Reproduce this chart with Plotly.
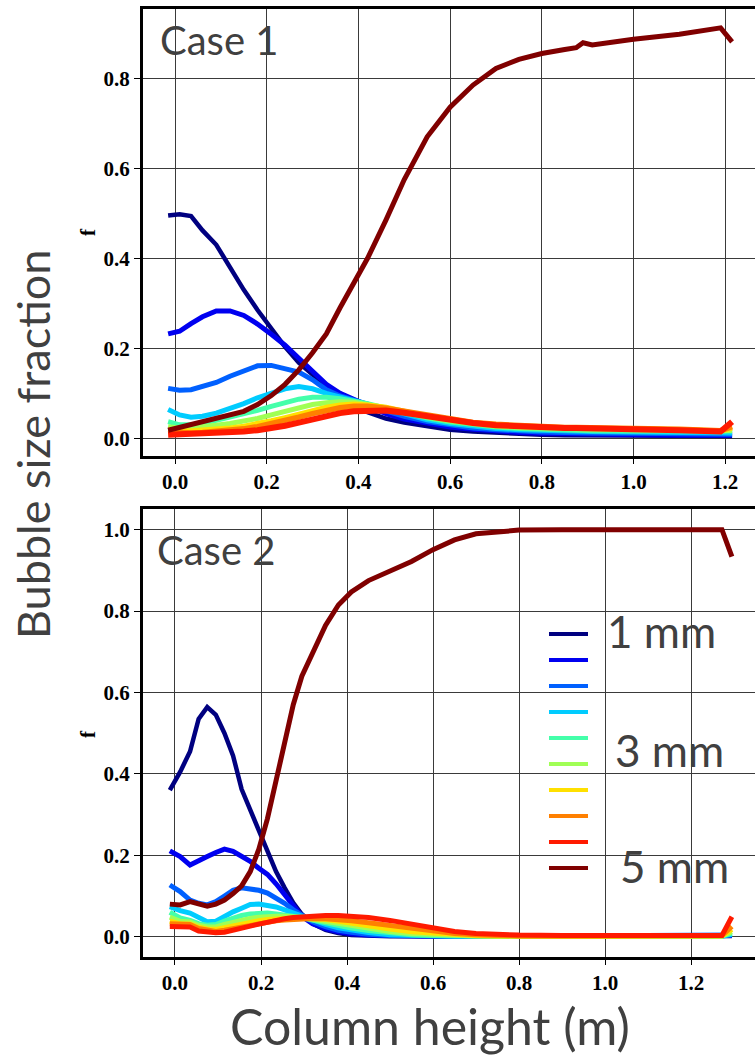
import plotly.graph_objects as go

# ---------------- data ----------------
sizes = ["1 mm", "", "", "", "3 mm", "", "", "", "", "5 mm"]
colors = ["#000080", "#0000F0", "#0060FF", "#00CCFF", "#44FFAA",
          "#A0FF55", "#FFE000", "#FF8000", "#FF1A00", "#800000"]

# Case 1: column height (m) and bubble size fraction of each class
x_case1 = [-0.015, 0.01, 0.035, 0.06, 0.09, 0.12, 0.15, 0.18, 0.21, 0.24, 0.27,
           0.30, 0.33, 0.36, 0.39, 0.42, 0.46, 0.50, 0.55, 0.60, 0.65, 0.70,
           0.75, 0.80, 0.85, 0.875, 0.89, 0.91, 1.00, 1.10, 1.19, 1.215]
f1_1 = [0.495, 0.498, 0.494, 0.462, 0.43, 0.378, 0.33, 0.285, 0.243, 0.203, 0.168,
        0.14, 0.115, 0.094, 0.074, 0.058, 0.044, 0.035, 0.026, 0.019, 0.015, 0.012,
        0.010, 0.008, 0.007, 0.007, 0.007, 0.006, 0.006, 0.005, 0.005, 0.005]
f1_2 = [0.232, 0.238, 0.255, 0.27, 0.283, 0.283, 0.273, 0.254, 0.231, 0.207, 0.178,
        0.148, 0.12, 0.1, 0.086, 0.072, 0.055, 0.043, 0.033, 0.025, 0.02, 0.016,
        0.013, 0.011, 0.010, 0.009, 0.009, 0.009, 0.008, 0.007, 0.007, 0.007]
f1_3 = [0.111, 0.107, 0.108, 0.116, 0.124, 0.138, 0.15, 0.161, 0.162, 0.155, 0.147,
        0.13, 0.108, 0.094, 0.086, 0.076, 0.061, 0.049, 0.037, 0.029, 0.023, 0.019,
        0.016, 0.014, 0.013, 0.012, 0.012, 0.012, 0.011, 0.010, 0.009, 0.009]
f1_4 = [0.064, 0.052, 0.047, 0.049, 0.056, 0.066, 0.077, 0.09, 0.101, 0.11, 0.115,
        0.11, 0.1, 0.092, 0.085, 0.077, 0.065, 0.053, 0.041, 0.033, 0.027, 0.022,
        0.019, 0.017, 0.016, 0.015, 0.015, 0.015, 0.014, 0.013, 0.012, 0.012]
f1_5 = [0.037, 0.03, 0.03, 0.033, 0.04, 0.047, 0.054, 0.062, 0.071, 0.08, 0.087,
        0.091, 0.091, 0.088, 0.083, 0.077, 0.067, 0.056, 0.045, 0.036, 0.03, 0.025,
        0.022, 0.020, 0.018, 0.018, 0.018, 0.017, 0.016, 0.015, 0.014, 0.016]
f1_6 = [0.026, 0.023, 0.023, 0.025, 0.029, 0.033, 0.038, 0.044, 0.052, 0.06, 0.068,
        0.075, 0.079, 0.081, 0.08, 0.076, 0.068, 0.058, 0.047, 0.039, 0.032, 0.027,
        0.024, 0.022, 0.020, 0.020, 0.020, 0.020, 0.019, 0.017, 0.016, 0.018]
f1_7 = [0.02, 0.017, 0.017, 0.018, 0.02, 0.023, 0.027, 0.032, 0.039, 0.046, 0.054,
        0.062, 0.069, 0.074, 0.076, 0.074, 0.069, 0.06, 0.049, 0.041, 0.034, 0.029,
        0.026, 0.024, 0.022, 0.022, 0.022, 0.022, 0.021, 0.019, 0.017, 0.022]
f1_8 = [0.015, 0.012, 0.012, 0.013, 0.015, 0.017, 0.021, 0.026, 0.032, 0.039, 0.047,
        0.055, 0.062, 0.068, 0.071, 0.071, 0.067, 0.06, 0.05, 0.042, 0.035, 0.031,
        0.028, 0.026, 0.024, 0.024, 0.024, 0.024, 0.022, 0.020, 0.017, 0.026]
f1_9 = [0.008, 0.009, 0.009, 0.009, 0.01, 0.012, 0.015, 0.018, 0.022, 0.028, 0.035,
        0.043, 0.05, 0.056, 0.06, 0.062, 0.062, 0.057, 0.049, 0.041, 0.034, 0.029,
        0.026, 0.024, 0.023, 0.023, 0.023, 0.022, 0.020, 0.018, 0.015, 0.037]
f1_10 = [0.018, 0.024, 0.032, 0.037, 0.043, 0.05, 0.06, 0.075, 0.095, 0.12, 0.152,
         0.19, 0.232, 0.29, 0.345, 0.4, 0.485, 0.575, 0.67, 0.736, 0.785, 0.822,
         0.842, 0.855, 0.864, 0.868, 0.879, 0.874, 0.887, 0.898, 0.912, 0.881]

# Case 2
x_case2 = [-0.012, 0.012, 0.035, 0.055, 0.075, 0.095, 0.115, 0.135, 0.155, 0.175,
           0.195, 0.215, 0.235, 0.255, 0.275, 0.295, 0.32, 0.35, 0.38, 0.41, 0.45,
           0.5, 0.55, 0.6, 0.65, 0.7, 0.75, 0.8, 0.9, 1.0, 1.1, 1.2, 1.272, 1.295]
f2_1 = [0.36, 0.405, 0.455, 0.535, 0.564, 0.545, 0.5, 0.445, 0.362, 0.31, 0.26,
        0.21, 0.16, 0.12, 0.083, 0.055, 0.032, 0.017, 0.009, 0.004, 0.002, 0.001,
        0.001, 0.0, 0.0, 0.0, 0.0, 0.0, 0.0, 0.0, 0.0, 0.0, 0.0, 0.002]
f2_2 = [0.211, 0.197, 0.176, 0.185, 0.197, 0.207, 0.215, 0.21, 0.198, 0.185, 0.168,
        0.153, 0.13, 0.102, 0.075, 0.05, 0.032, 0.02, 0.012, 0.007, 0.004, 0.002,
        0.001, 0.001, 0.001, 0.001, 0.001, 0.001, 0.001, 0.001, 0.001, 0.001, 0.001, 0.003]
f2_3 = [0.127, 0.111, 0.09, 0.082, 0.078, 0.086, 0.1, 0.114, 0.12, 0.117, 0.114,
        0.107, 0.095, 0.082, 0.066, 0.052, 0.037, 0.025, 0.016, 0.011, 0.006, 0.003,
        0.002, 0.001, 0.001, 0.001, 0.001, 0.001, 0.001, 0.001, 0.001, 0.001, 0.001, 0.004]
f2_4 = [0.074, 0.064, 0.058, 0.047, 0.037, 0.038, 0.05, 0.061, 0.07, 0.079, 0.08,
        0.078, 0.073, 0.066, 0.058, 0.05, 0.04, 0.03, 0.022, 0.016, 0.01, 0.005,
        0.003, 0.002, 0.001, 0.001, 0.001, 0.001, 0.001, 0.001, 0.001, 0.001, 0.001, 0.006]
f2_5 = [0.06, 0.046, 0.04, 0.032, 0.028, 0.03, 0.038, 0.046, 0.052, 0.056, 0.058,
        0.058, 0.056, 0.054, 0.051, 0.047, 0.041, 0.034, 0.027, 0.021, 0.015, 0.009,
        0.005, 0.003, 0.002, 0.001, 0.001, 0.001, 0.001, 0.001, 0.001, 0.001, 0.002, 0.009]
f2_6 = [0.048, 0.038, 0.036, 0.028, 0.024, 0.024, 0.03, 0.036, 0.041, 0.045, 0.048,
        0.05, 0.05, 0.05, 0.049, 0.047, 0.043, 0.038, 0.032, 0.027, 0.02, 0.013,
        0.008, 0.005, 0.003, 0.002, 0.001, 0.001, 0.001, 0.001, 0.001, 0.001, 0.002, 0.012]
f2_7 = [0.038, 0.032, 0.031, 0.023, 0.019, 0.018, 0.022, 0.027, 0.032, 0.036, 0.039,
        0.042, 0.044, 0.045, 0.046, 0.046, 0.045, 0.042, 0.038, 0.034, 0.027, 0.019,
        0.012, 0.008, 0.005, 0.003, 0.002, 0.001, 0.001, 0.001, 0.001, 0.001, 0.002, 0.018]
f2_8 = [0.032, 0.03, 0.03, 0.02, 0.015, 0.013, 0.016, 0.02, 0.025, 0.029, 0.032,
        0.036, 0.039, 0.041, 0.043, 0.044, 0.045, 0.044, 0.042, 0.039, 0.034, 0.027,
        0.02, 0.013, 0.008, 0.005, 0.003, 0.002, 0.002, 0.002, 0.002, 0.002, 0.003, 0.025]
f2_9 = [0.025, 0.025, 0.024, 0.014, 0.011, 0.01, 0.011, 0.015, 0.02, 0.026, 0.031,
        0.036, 0.04, 0.044, 0.047, 0.049, 0.051, 0.052, 0.052, 0.051, 0.047, 0.04,
        0.03, 0.021, 0.013, 0.008, 0.005, 0.004, 0.003, 0.003, 0.003, 0.003, 0.003, 0.049]
f2_10 = [0.08, 0.078, 0.086, 0.079, 0.075, 0.08, 0.09, 0.106, 0.125, 0.16, 0.215,
         0.29, 0.38, 0.48, 0.57, 0.64, 0.70, 0.765, 0.815, 0.847, 0.875, 0.9,
         0.922, 0.951, 0.975, 0.99, 0.996, 0.999, 1.0, 1.0, 1.0, 1.0, 1.0, 0.934]

case1 = [f1_1, f1_2, f1_3, f1_4, f1_5, f1_6, f1_7, f1_8, f1_9, f1_10]
case2 = [f2_1, f2_2, f2_3, f2_4, f2_5, f2_6, f2_7, f2_8, f2_9, f2_10]
widths1 = [4.5, 5, 5, 5, 5, 5, 5, 5.5, 6, 5]
widths2 = [4.5, 5, 5, 5, 5, 5, 5, 5, 5, 5]

W, H = 755, 1060


def px(x):
    return x / W


def py(y):
    return 1 - y / H


fig = go.Figure()
for i in range(10):
    fig.add_trace(go.Scatter(x=x_case1, y=case1[i], mode="lines",
                             line=dict(color=colors[i], width=widths1[i]),
                             xaxis="x", yaxis="y", showlegend=False))
for i in range(10):
    fig.add_trace(go.Scatter(x=x_case2, y=case2[i], mode="lines",
                             line=dict(color=colors[i], width=widths2[i]),
                             xaxis="x2", yaxis="y2", showlegend=False))

tick_font = dict(family="Liberation Serif", size=21, color="black", weight="bold")
common_x = dict(dtick=0.2, tick0=0, tickformat=".1f", showgrid=True,
                gridcolor="#3a3a3a", gridwidth=1, showline=True, linecolor="black",
                linewidth=3, mirror=True, ticks="outside", ticklen=5,
                tickcolor="black", tickfont=tick_font, zeroline=False)
common_y = dict(dtick=0.2, tick0=0, tickformat=".1f", showgrid=True,
                gridcolor="#3a3a3a", gridwidth=1, showline=True, linecolor="black",
                linewidth=3, ticks="outside", ticklen=6, tickcolor="black",
                tickfont=tick_font, zeroline=False)

x_dom = [143 / W, 1.0]
fig.update_layout(
    width=W, height=H,
    margin=dict(l=0, r=0, t=0, b=0),
    paper_bgcolor="white", plot_bgcolor="white",
    xaxis=dict(domain=x_dom, range=[-0.0698, 1.265], anchor="y", **common_x),
    yaxis=dict(domain=[py(456), py(9)], range=[-0.0393, 0.954], anchor="x", **common_y),
    xaxis2=dict(domain=x_dom, range=[-0.0744, 1.3488], anchor="y2", **common_x),
    yaxis2=dict(domain=[py(957), py(509)], range=[-0.0499, 1.0509], anchor="x2", **common_y),
)

label_font = dict(family="Lato", color="#404040")


def text_at(text, x, y, size, xanchor="center", angle=0, font=None):
    f = dict(size=size, **(font or label_font))
    return dict(x=px(x), y=py(y), xref="paper", yref="paper", text=text,
                showarrow=False, xanchor=xanchor, yanchor="middle",
                textangle=angle, font=f)


serif = dict(family="Liberation Serif", color="black", weight="bold")
ann = [
    # axis symbol "f" on each panel
    text_at("f", 88, 232, 21, angle=-90, font=serif),
    text_at("f", 88, 734, 21, angle=-90, font=serif),
    text_at("Case 1", 158, 40, 40, xanchor="left"),
    text_at("Case 2", 155, 550, 40, xanchor="left"),
    text_at("Bubble size fraction", 33, 445, 45, angle=-90),
    text_at("Column height (m)", 430, 1026, 50),
]

# size-class key drawn inside the lower panel
key_y = [634, 660, 686, 712, 738, 764, 790, 816, 842, 868]
shapes = []
for i, yk in enumerate(key_y):
    shapes.append(dict(type="line", xref="paper", yref="paper",
                       x0=px(549), x1=px(588), y0=py(yk), y1=py(yk),
                       line=dict(color=colors[i], width=4)))
for text, xl, yc in (("1 mm", 605, 631), ("3 mm", 613, 750), ("5 mm", 618, 866)):
    ann.append(text_at(text, xl, yc, 44, xanchor="left"))

fig.update_layout(annotations=ann, shapes=shapes)
fig.write_html("out.html")
